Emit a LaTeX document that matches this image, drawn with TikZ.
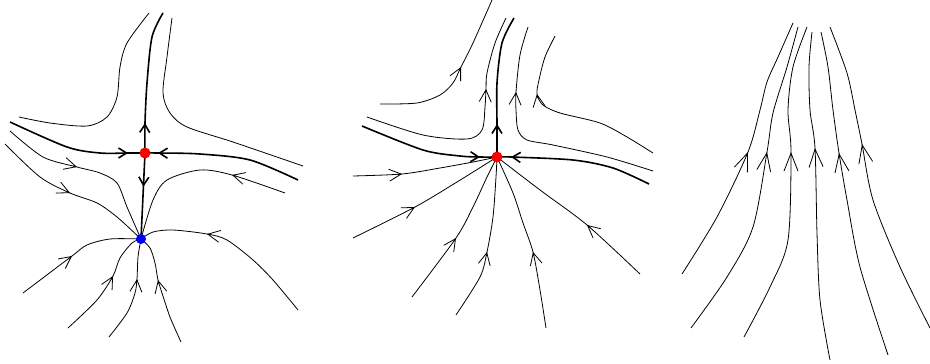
\documentclass[tikz,border=0pt]{standalone}
\usetikzlibrary{arrows.meta, calc}

\begin{document}
\begin{tikzpicture}[
	x=1pt, y=-1pt,
	orbit/.style={draw, line width=0.8pt},
	separatrix/.style={draw, line width=1.6pt},
	tipmark/.style={orbit, -{Straight Barb[length=12pt,width=12pt]}},
	bigtip/.style={orbit, -{Straight Barb[length=18pt,width=14pt]}},
	septip/.style={separatrix, -{Straight Barb[length=8pt,width=10pt]}},
	saddle/.style={circle, fill=red, inner sep=0pt, minimum size=11pt},
	sink/.style={circle, fill=blue, inner sep=0pt, minimum size=10pt}
	]
	\useasboundingbox (0,0) rectangle (930,364);
	
	% ======================
	% left: saddle and stable node
	% ======================
	\coordinate (sA) at (145,153);
	\coordinate (nA) at (141,239);
	
	% separatrices
	\draw[separatrix] plot[smooth] coordinates {(145,153) (145,123) (147,83) (152,37) (163,13)};
	\draw[septip] ($(145,123)!4pt!(143,193)$) -- (145,123);
	\draw[separatrix] (sA) -- (nA);
	\draw[septip] ($(sA)!0.34!(nA)$) -- ($(sA)!0.39!(nA)$);
	\draw[separatrix] plot[smooth] coordinates {(10,122) (67,147) (100,153) (128,153) (145,153)};
	\draw[septip] ($(128,153)!4pt!(83,153)$) -- (128,153);
	\draw[separatrix] plot[smooth] coordinates {(298,180) (250,160) (200,154) (158,153) (145,153)};
	\draw[septip] ($(158,153)!4pt!(213,154)$) -- (158,153);
	
	% upper orbits
	\draw[orbit] plot[smooth] coordinates {(149,13) (127,43) (120,67) (117,97) (107,117) (87,126) (50,123) (19,117)};
	\draw[orbit] plot[smooth] coordinates {(172,18) (167,57) (163,93) (170,113) (187,127) (233,142) (303,166)};
	
	% orbits into the node
	\draw[orbit] plot[smooth] coordinates {(10,131) (43,157) (77,167) (100,173) (117,183) (127,207) (141,239)};
	\draw[tipmark] ($(77,167)!4pt!(20,151)$) -- (77,167);
	\draw[orbit] plot[smooth] coordinates {(5,144) (40,177) (70,193) (97,203) (117,217) (141,239)};
	\draw[tipmark] ($(70,193)!4pt!(13,167)$) -- (70,193);
	\draw[orbit] plot[smooth] coordinates {(285,193) (232,175) (200,170) (167,180) (153,200) (141,239)};
	\draw[tipmark] ($(232,175)!4pt!(317,198)$) -- (232,175);
	\draw[orbit] plot[smooth] coordinates {(298,310) (273,280) (253,260) (227,240) (207,234) (173,230) (153,232) (141,239)};
	\draw[tipmark] ($(207,234)!4pt!(261,244)$) -- (207,234);
	\draw[orbit] plot[smooth] coordinates {(23,293) (72,256) (87,245) (110,239) (141,239)};
	\draw[tipmark] ($(72,256)!4pt!(8,304)$) -- (72,256);
	\draw[orbit] plot[smooth] coordinates {(68,328) (97,300) (113,276) (120,258) (132,243) (141,239)};
	\draw[tipmark] ($(113,276)!4pt!(90,318)$) -- (113,276);
	\draw[orbit] plot[smooth] coordinates {(109,337) (127,313) (135,293) (137,279) (138,257) (141,239)};
	\draw[tipmark] ($(137,279)!4pt!(134,315)$) -- (137,279);
	\draw[orbit] plot[smooth] coordinates {(181,342) (170,317) (162,293) (158,280) (155,263) (150,248) (141,239)};
	\draw[tipmark] ($(158,280)!4pt!(165,310)$) -- (158,280);
	
	% ======================
	% middle: one fixed point
	% ======================
	\coordinate (sB) at (497,157);
	
	\draw[separatrix] plot[smooth] coordinates {(497,157) (497,124) (497,83) (502,43) (514,18)};
	\draw[septip] ($(497,124)!4pt!(497,198)$) -- (497,124);
	\draw[separatrix] plot[smooth] coordinates {(362,126) (423,150) (460,156) (480,157) (497,157)};
	\draw[septip] ($(480,157)!4pt!(443,156)$) -- (480,157);
	\draw[separatrix] plot[smooth] coordinates {(649,184) (613,168) (573,160) (511,157) (497,157)};
	\draw[septip] ($(511,157)!4pt!(587,160)$) -- (511,157);
	
	% upper orbits
	\draw[orbit] plot[smooth] coordinates {(380,104) (417,103) (440,95) (453,83) (461,67) (473,43) (492,0)};
	\draw[tipmark] ($(461,67)!4pt!(441,107)$) -- (461,67);
	\draw[orbit] plot[smooth] coordinates {(367,117) (423,135) (467,139) (482,130) (485,107) (486,89) (487,73) (495,43) (506,18)};
	\draw[tipmark] ($(486,89)!4pt!(484,123)$) -- (486,89);
	\draw[orbit] plot[smooth] coordinates {(653,171) (607,157) (553,145) (527,140) (518,130) (516,110) (516,92) (520,55) (528,27)};
	\draw[tipmark] ($(516,92)!4pt!(512,147)$) -- (516,92);
	\draw[orbit] plot[smooth] coordinates {(653,153) (627,137) (600,123) (560,113) (543,105) (537,94) (539,80) (545,57) (555,36)};
	\draw[tipmark] ($(537,94)!4pt!(541,119)$) -- (537,94);
	
	% lower orbits into the fixed point
	\draw[orbit] plot[smooth] coordinates {(353,176) (402,174) (440,168) (473,162) (497,157)};
	\draw[tipmark] ($(402,174)!4pt!(315,182)$) -- (402,174);
	\draw[orbit] plot[smooth] coordinates {(353,238) (415,207) (457,182) (497,157)};
	\draw[tipmark] ($(415,207)!4pt!(311,263)$) -- (415,207);
	\draw[orbit] plot[smooth] coordinates {(412,297) (456,238) (473,207) (487,177) (497,157)};
	\draw[tipmark] ($(456,238)!4pt!(395,328)$) -- (456,238);
	\draw[orbit] plot[smooth] coordinates {(456,315) (480,277) (487,252) (493,217) (496,177) (497,157)};
	\draw[tipmark] ($(487,252)!4pt!(474,312)$) -- (487,252);
	\draw[orbit] plot[smooth] coordinates {(546,328) (540,290) (533,252) (523,223) (513,193) (497,157)};
	\draw[tipmark] ($(533,252)!4pt!(550,319)$) -- (533,252);
	\draw[orbit] plot[smooth] coordinates {(640,274) (587,225) (540,190) (497,157)};
	\draw[tipmark] ($(587,225)!4pt!(687,309)$) -- (587,225);
	
	% ======================
	% right: no fixed point
	% ======================
	\draw[orbit] plot[smooth] coordinates {(682,274) (717,217) (748,152) (760,110) (767,82) (778,57) (793,23)};
	\draw[bigtip] ($(748,152)!4pt!(705,259)$) -- (748,152);
	\draw[orbit] plot[smooth] coordinates {(691,328) (727,277) (753,227) (767,152) (773,113) (787,67) (798,27)};
	\draw[bigtip] ($(767,152)!4pt!(747,266)$) -- (767,152);
	\draw[orbit] plot[smooth] coordinates {(744,337) (770,287) (788,240) (791,152) (788,110) (793,67) (807,27)};
	\draw[bigtip] ($(791,152)!4pt!(791,282)$) -- (791,152);
	\draw[orbit] plot[smooth] coordinates {(830,360) (820,300) (817,233) (815,148) (810,110) (809,67) (812,32)};
	\draw[bigtip] ($(815,148)!4pt!(822,271)$) -- (815,148);
	\draw[orbit] plot[smooth] coordinates {(888,355) (860,267) (847,200) (839,153) (833,110) (828,67) (821,32)};
	\draw[bigtip] ($(839,153)!4pt!(853,243)$) -- (839,153);
	\draw[orbit] plot[smooth] coordinates {(930,328) (900,267) (873,200) (862,144) (855,110) (847,73) (830,27)};
	\draw[bigtip] ($(862,144)!4pt!(880,234)$) -- (862,144);
	
	% fixed points on top
	\node[saddle] (saddleA) at (sA) {};
	\node[sink] (nodeA) at (nA) {};
	\node[saddle] (saddleB) at (sB) {};
	
\end{tikzpicture}
\end{document}
